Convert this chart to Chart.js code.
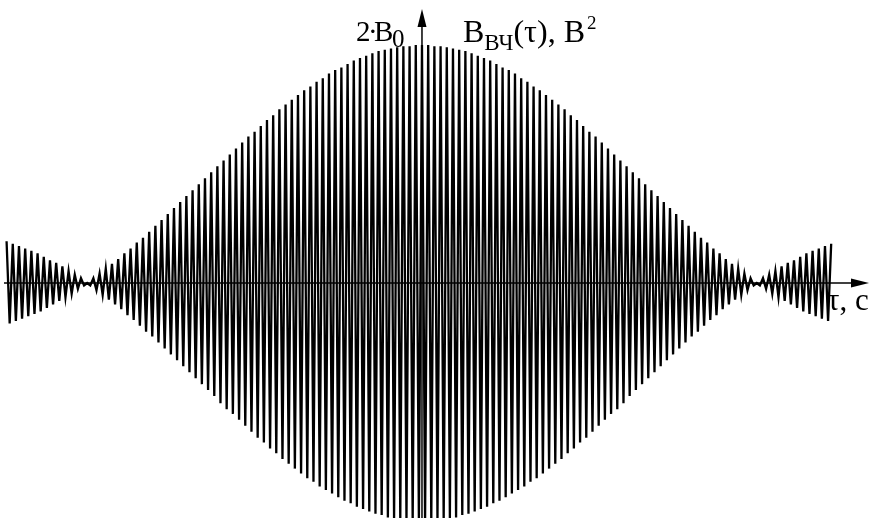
<!DOCTYPE html>
<html>
<head>
<meta charset="utf-8">
<script src="https://cdn.jsdelivr.net/npm/chart.js@4/dist/chart.umd.min.js"></script>
<style>
  html, body { margin: 0; padding: 0; background: #fff; }
  #wrap { width: 870px; height: 518px; }
</style>
</head>
<body>
<div id="wrap"><canvas id="corr" width="870" height="518"></canvas></div>
<script>
// Peak amplitudes of the HF correlation function, in units of B0,
// one value per half-period starting at tau = 0 (curve is symmetric about tau = 0)
const peakAmp = [
    2.00, 2.00, 2.00, 2.00, 1.99, 1.99, 1.99, 1.99, 1.98, 1.98,
    1.97, 1.97, 1.96, 1.95, 1.95, 1.94, 1.93, 1.92, 1.91, 1.90,
    1.89, 1.88, 1.87, 1.85, 1.84, 1.83, 1.81, 1.80, 1.79, 1.77,
    1.76, 1.74, 1.72, 1.71, 1.69, 1.67, 1.65, 1.64, 1.62, 1.60,
    1.58, 1.56, 1.54, 1.52, 1.50, 1.48, 1.46, 1.43, 1.41, 1.39,
    1.37, 1.34, 1.32, 1.30, 1.27, 1.25, 1.23, 1.20, 1.18, 1.15,
    1.13, 1.10, 1.08, 1.06, 1.03, 1.01, 0.98, 0.95, 0.93, 0.90,
    0.88, 0.85, 0.83, 0.80, 0.78, 0.75, 0.73, 0.70, 0.68, 0.65,
    0.63, 0.60, 0.58, 0.55, 0.53, 0.50, 0.48, 0.45, 0.43, 0.41,
    0.38, 0.36, 0.34, 0.31, 0.29, 0.27, 0.25, 0.22, 0.20, 0.18,
    0.16, 0.14, 0.12, 0.10, 0.08, 0.06, 0.04, 0.02, 0.00, 0.02,
    0.04, 0.05, 0.07, 0.09, 0.10, 0.12, 0.14, 0.15, 0.17, 0.18,
    0.19, 0.21, 0.22, 0.24, 0.25, 0.26, 0.27, 0.28, 0.29, 0.30,
    0.31, 0.32, 0.33, 0.34, 0.35
];
const halfStep = 0.5;      // tau distance between neighbouring extremes (carrier periods)
const tauStart = -67;
const tauEnd = 66;

const yLabel = ["B", "ВЧ", "(τ), В", "2"];   // main, subscript, main, superscript
const peakLabel = ["2", "·", "B", "0"];
const xLabel = "τ, с";

// build the trace: extremes alternate in sign
const trace = [];
for (let tau = tauStart; tau <= tauEnd + 1e-9; tau += halfStep) {
    const i = Math.round(Math.abs(tau) / halfStep);
    const sign = i % 2 === 0 ? 1 : -1;
    trace.push({ x: tau, y: sign * peakAmp[i] });
}

const SERIF = '"Liberation Serif", "Times New Roman", serif';

// draws the arrowed axes and their captions over the trace
const axesPlugin = {
    id: 'axesArrows',
    afterDatasetsDraw(chart) {
        const { ctx, scales: { x, y } } = chart;
        const x0 = x.getPixelForValue(0);
        const y0 = y.getPixelForValue(0);
        const W = chart.width, H = chart.height;

        ctx.save();
        ctx.strokeStyle = '#000';
        ctx.fillStyle = '#000';
        ctx.lineWidth = 1.5;

        // horizontal axis
        ctx.beginPath();
        ctx.moveTo(4, y0);
        ctx.lineTo(W - 16, y0);
        ctx.stroke();
        ctx.beginPath();
        ctx.moveTo(W - 1, y0);
        ctx.lineTo(W - 19, y0 - 4.5);
        ctx.lineTo(W - 19, y0 + 4.5);
        ctx.closePath();
        ctx.fill();

        // vertical axis
        ctx.beginPath();
        ctx.moveTo(x0, H);
        ctx.lineTo(x0, 24);
        ctx.stroke();
        ctx.beginPath();
        ctx.moveTo(x0, 9);
        ctx.lineTo(x0 - 4.5, 27);
        ctx.lineTo(x0 + 4.5, 27);
        ctx.closePath();
        ctx.fill();

        ctx.textBaseline = 'alphabetic';
        ctx.textAlign = 'left';

        // 2·B0 left of the arrow, set tight
        ctx.font = '29px ' + SERIF;
        ctx.fillText(peakLabel[0], x0 - 66, 41);
        ctx.fillText(peakLabel[1], x0 - 54, 41);
        ctx.fillText(peakLabel[2], x0 - 48, 41);
        ctx.font = '25px ' + SERIF;
        ctx.fillText(peakLabel[3], x0 - 30, 47);

        // B_ВЧ(τ), В²
        let px = x0 + 41;
        ctx.font = '32px ' + SERIF;
        ctx.fillText(yLabel[0], px, 42);
        px += ctx.measureText(yLabel[0]).width;
        ctx.font = '23px ' + SERIF;
        ctx.fillText(yLabel[1], px, 50);
        px += ctx.measureText(yLabel[1]).width;
        ctx.font = '32px ' + SERIF;
        ctx.fillText(yLabel[2], px, 42);
        px += ctx.measureText(yLabel[2]).width + 2;
        ctx.font = '19px ' + SERIF;
        ctx.fillText(yLabel[3], px, 29);

        // τ, с under the arrow
        ctx.font = '31px ' + SERIF;
        ctx.fillText(xLabel, W - 43, y0 + 27);

        ctx.restore();
    }
};

new Chart(document.getElementById('corr'), {
    type: 'line',
    data: {
        datasets: [{
            data: trace,
            borderColor: '#000',
            borderWidth: 2.3,
            pointRadius: 0,
            tension: 0,
            fill: false
        }]
    },
    options: {
        responsive: false,
        devicePixelRatio: 1,
        animation: false,
        layout: { padding: 0 },
        plugins: { legend: { display: false }, tooltip: { enabled: false } },
        scales: {
            x: { type: 'linear', display: false, min: -68.06, max: 72.26 },
            y: { type: 'linear', display: false, min: -1.975, max: 2.378 }
        }
    },
    plugins: [axesPlugin]
});
</script>
</body>
</html>
